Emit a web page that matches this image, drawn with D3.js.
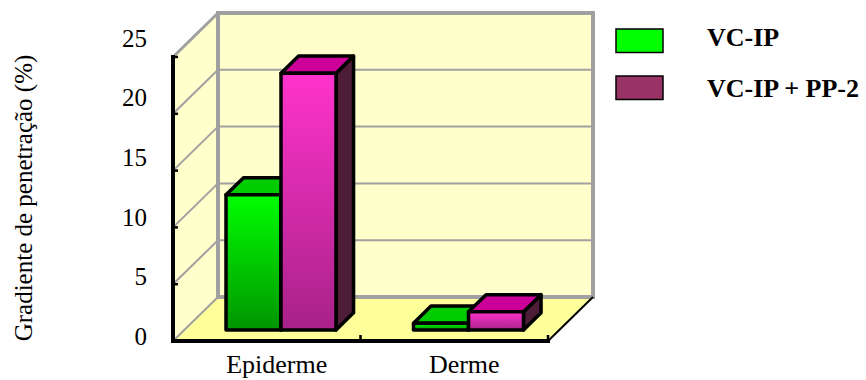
<!DOCTYPE html>
<html>
<head>
<meta charset="utf-8">
<script src="https://cdn.jsdelivr.net/npm/d3@7/dist/d3.min.js"></script>
<style>
  html, body { margin: 0; padding: 0; background: #ffffff; }
  svg { display: block; }
  svg text { font-family: "Liberation Serif", "LiberationSerif", "Times New Roman", Times, "Nimbus Roman", "Nimbus Roman No9 L", FreeSerif, "Noto Serif", "DejaVu Serif", "Bitstream Vera Serif", serif; }
</style>
</head>
<body>
<svg id="chart" width="866" height="380"></svg>
<script>
// Penetration gradient (%) per skin layer, for two formulations
const categories = ["Epiderme", "Derme"];
const seriesNames = ["VC-IP", "VC-IP + PP-2"];
const vcIp = [11.9, 0.6];
const vcIpPp2 = [22.6, 1.6];
const yTicks = [0, 5, 10, 15, 20, 25];

const svg = d3.select("#chart");

// Front plane of the 3D box and its depth offset
const front = { left: 173, right: 548, top: 57, bottom: 341 };
const DX = 45, DY = 44;
const P = (x, y, d) => [x + d * DX, y - d * DY];

const x = d3.scaleBand().domain(categories).range([front.left, front.right]);
const y = d3.scaleLinear().domain([0, 25]).range([front.bottom, front.top]);
const yLabel = d3.scaleLinear().domain([0, 25]).range([336.5, 38]);
const series = d3.scaleBand().domain(seriesNames).range([0, 110]);

const wall = "#FFFFCC", floor = "#FFFF99", gray = "#A0A0A0";
const line = d3.line();

// Gradients for bar fronts
const defs = svg.append("defs");
function vGrad(id, c0, c1) {
  const g = defs.append("linearGradient").attr("id", id)
    .attr("x1", 0).attr("y1", 0).attr("x2", 0).attr("y2", 1);
  g.append("stop").attr("offset", "0%").attr("stop-color", c0);
  g.append("stop").attr("offset", "100%").attr("stop-color", c1);
}
vGrad("gGreen", "#00FF00", "#009400");
vGrad("gPink", "#FF33CC", "#A82288");

// Left wall
svg.append("path")
  .attr("d", line([P(front.left, y(25), 0), P(front.left, y(25), 1), P(front.left, y(0), 1), P(front.left, y(0), 0)]) + "Z")
  .attr("fill", wall);
// Floor
svg.append("path")
  .attr("d", line([P(front.left, y(0), 0), P(front.left, y(0), 1), P(front.right, y(0), 1), P(front.right, y(0), 0)]) + "Z")
  .attr("fill", floor);
// Back wall
const bw = [P(front.left, y(25), 1), P(front.right, y(0), 1)];
svg.append("rect")
  .attr("x", bw[0][0]).attr("y", bw[0][1])
  .attr("width", bw[1][0] - bw[0][0]).attr("height", bw[1][1] - bw[0][1])
  .attr("fill", wall);

// Gridlines: back wall horizontals and left wall diagonals
yTicks.forEach(t => {
  const a = P(front.left, y(t), 1), b = P(front.right, y(t), 1);
  svg.append("line").attr("x1", a[0]).attr("y1", a[1]).attr("x2", b[0]).attr("y2", b[1])
    .attr("stroke", gray).attr("stroke-width", (t === 0 || t === 25) ? 4 : 2);
  const c = P(front.left, y(t), 0);
  svg.append("line").attr("x1", c[0]).attr("y1", c[1]).attr("x2", a[0]).attr("y2", a[1])
    .attr("stroke", gray).attr("stroke-width", t === 25 ? 3 : 2);
});
// Back wall left and right edges
[front.left, front.right].forEach(xx => {
  const a = P(xx, y(25), 1), b = P(xx, y(0), 1);
  svg.append("line").attr("x1", a[0]).attr("y1", a[1] - 2).attr("x2", b[0]).attr("y2", b[1] + 2)
    .attr("stroke", gray).attr("stroke-width", 4);
});
// Floor right edge
{
  const a = P(front.right, y(0), 0), b = P(front.right, y(0), 1);
  svg.append("line").attr("x1", a[0]).attr("y1", a[1]).attr("x2", b[0]).attr("y2", b[1])
    .attr("stroke", "#000").attr("stroke-width", 2);
}

// Axes on the front plane
svg.append("line").attr("x1", front.left).attr("y1", y(25)).attr("x2", front.left).attr("y2", y(0))
  .attr("stroke", "#000").attr("stroke-width", 4).attr("stroke-linecap", "square");
svg.append("line").attr("x1", front.left).attr("y1", y(0)).attr("x2", front.right).attr("y2", y(0))
  .attr("stroke", "#000").attr("stroke-width", 4).attr("stroke-linecap", "square");
yTicks.forEach(t => {
  svg.append("line").attr("x1", front.left).attr("x2", front.left + 5)
    .attr("y1", y(t)).attr("y2", y(t)).attr("stroke", "#000").attr("stroke-width", 2.5);
});
const catEdges = [front.left, ...categories.map(c => x(c) + x.bandwidth())];
catEdges.forEach(cx => {
  svg.append("line").attr("x1", cx).attr("x2", cx)
    .attr("y1", y(0)).attr("y2", y(0) - 6).attr("stroke", "#000").attr("stroke-width", 2.5);
});

// Bars
const d0 = 0.25, d1 = 0.64;
const styles = {
  "VC-IP": { front: "url(#gGreen)", top: "#00CC00", side: "#008800" },
  "VC-IP + PP-2": { front: "url(#gPink)", top: "#CC0099", side: "#4D1C36" }
};
const barData = [];
categories.forEach((c, i) => {
  barData.push({ cat: c, s: seriesNames[0], v: vcIp[i] });
  barData.push({ cat: c, s: seriesNames[1], v: vcIpPp2[i] });
});
const gBars = svg.append("g");
barData.forEach(b => {
  const x0 = x(b.cat) + (x.bandwidth() - 110) / 2 + 3 + series(b.s);
  const x1 = x0 + series.bandwidth();
  const yt = y(b.v), yb = y(0);
  const st = styles[b.s];
  const g = gBars.append("g").attr("stroke", "#000").attr("stroke-width", 3.5).attr("stroke-linejoin", "round");
  g.append("path").attr("fill", st.side)
    .attr("d", line([P(x1, yt, d0), P(x1, yt, d1), P(x1, yb, d1), P(x1, yb, d0)]) + "Z");
  g.append("path").attr("fill", st.top)
    .attr("d", line([P(x0, yt, d0), P(x0, yt, d1), P(x1, yt, d1), P(x1, yt, d0)]) + "Z");
  const f0 = P(x0, yt, d0), f1 = P(x1, yb, d0);
  g.append("rect").attr("fill", st.front)
    .attr("x", f0[0]).attr("y", f0[1]).attr("width", f1[0] - f0[0]).attr("height", f1[1] - f0[1]);
});

// Tick labels
svg.append("g").selectAll("text").data(yTicks).join("text")
  .attr("x", 147).attr("y", d => yLabel(d) + 8.5)
  .attr("text-anchor", "end").attr("font-size", 25)
  .text(d => d);

// Category labels
svg.append("g").selectAll("text").data(categories).join("text")
  .attr("x", d => x(d) + x.bandwidth() / 2 + 10).attr("y", 373)
  .attr("text-anchor", "middle").attr("font-size", 26)
  .text(d => d);

// Axis title
svg.append("text")
  .attr("transform", "translate(32,198) rotate(-90)")
  .attr("text-anchor", "middle").attr("font-size", 25)
  .text("Gradiente de penetração (%)");

// Legend
const legendColors = ["#00FF00", "#993366"];
const lg = svg.append("g");
seriesNames.forEach((s, i) => {
  lg.append("rect").attr("x", 616).attr("y", 29 + i * 47).attr("width", 47).attr("height", 23.5)
    .attr("fill", legendColors[i]).attr("stroke", "#000").attr("stroke-width", 1.5);
  lg.append("text").attr("x", 707).attr("y", 46 + i * 51)
    .attr("font-size", 26).attr("font-weight", "bold").text(s);
});
</script>
</body>
</html>
